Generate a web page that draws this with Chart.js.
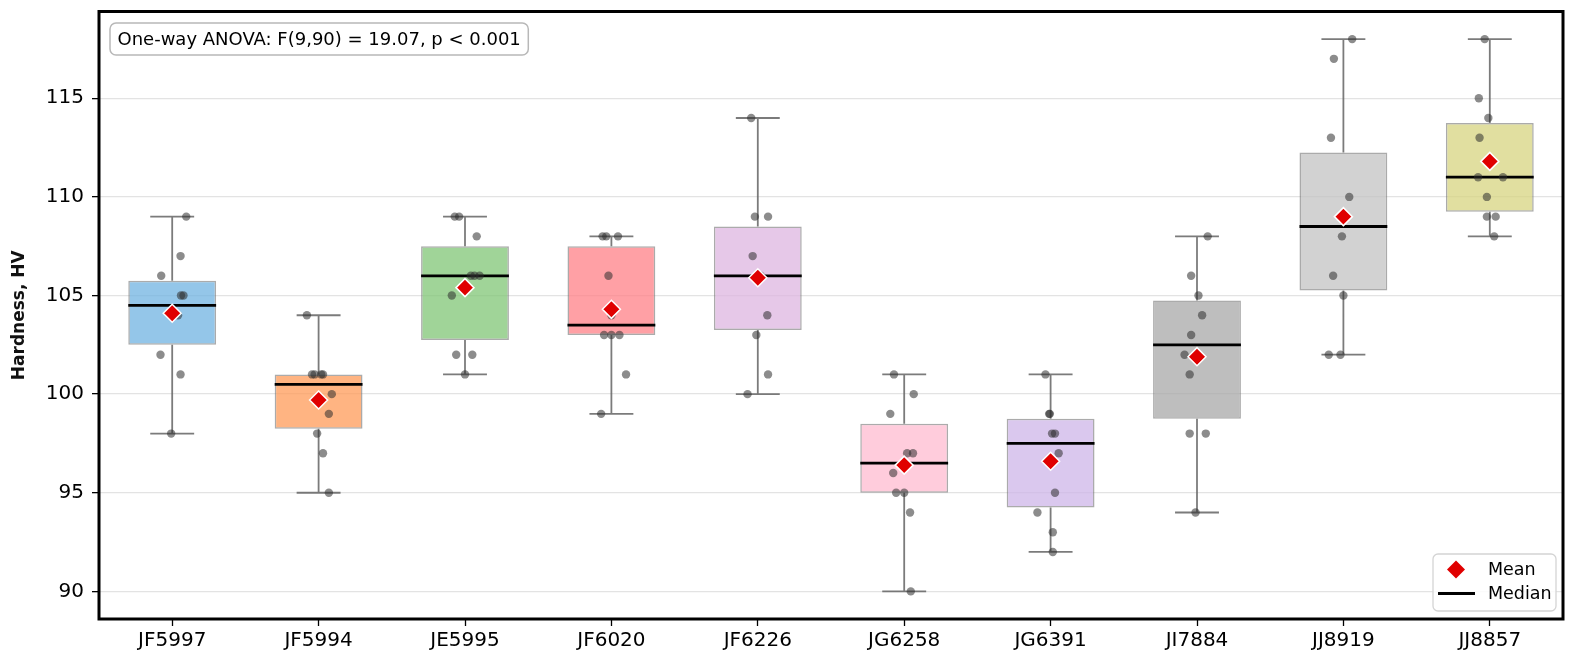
<!DOCTYPE html>
<html>
<head>
<meta charset="utf-8">
<script src="https://cdn.jsdelivr.net/npm/chart.js@4.4.1/dist/chart.umd.min.js"></script>
<style>
html,body{margin:0;padding:0;background:#fff;}
canvas{display:block;}
</style>
</head>
<body>
<canvas id="c" width="1576" height="663"></canvas>
<script>
// ---------------- DATA ----------------
const categories = ['JF5997','JF5994','JE5995','JF6020','JF6226','JG6258','JG6391','JI7884','JJ8919','JJ8857'];
const yTicks = [90, 95, 100, 105, 110, 115];

const valuesJF5997 = [109, 107, 106, 105, 105, 104, 104, 102, 101, 98];
const valuesJF5994 = [104, 101, 101, 101, 101, 100, 99, 98, 97, 95];
const valuesJE5995 = [109, 109, 108, 106, 106, 106, 105, 102, 102, 101];
const valuesJF6020 = [108, 108, 108, 106, 104, 103, 103, 103, 101, 99];
const valuesJF6226 = [114, 109, 109, 107, 106, 106, 104, 103, 101, 100];
const valuesJG6258 = [101, 100, 99, 97, 97, 96, 95, 95, 94, 90];
const valuesJG6391 = [101, 99, 99, 98, 98, 97, 95, 94, 93, 92];
const valuesJI7884 = [108, 106, 105, 104, 103, 102, 101, 98, 98, 94];
const valuesJJ8919 = [118, 117, 113, 110, 109, 108, 106, 105, 102, 102];
const valuesJJ8857 = [118, 115, 114, 113, 111, 111, 110, 109, 109, 108];

// horizontal jitter of each dot (category units)
const jitterJF5997 = [0.096, 0.057, -0.075, 0.06, 0.077, 0.04, 0.0, -0.08, 0.057, -0.007];
const jitterJF5994 = [-0.08, -0.045, -0.027, 0.018, 0.03, 0.09, 0.07, -0.01, 0.03, 0.07];
const jitterJE5995 = [-0.07, -0.04, 0.08, 0.04, 0.065, 0.1, -0.09, -0.06, 0.05, 0.0];
const jitterJF6020 = [-0.06, -0.035, 0.045, -0.02, 0.0, -0.05, 0.0, 0.055, 0.1, -0.07];
const jitterJF6226 = [-0.045, -0.02, 0.07, -0.035, 0.0, 0.02, 0.065, -0.01, 0.07, -0.07];
const jitterJG6258 = [-0.07, 0.065, -0.095, 0.02, 0.06, -0.075, -0.055, 0.0, 0.04, 0.045];
const jitterJG6391 = [-0.035, -0.01, -0.005, 0.01, 0.03, 0.055, 0.03, -0.09, 0.015, 0.015];
const jitterJI7884 = [0.073, -0.04, 0.01, 0.035, -0.04, -0.085, -0.05, -0.05, 0.06, -0.01];
const jitterJJ8919 = [0.06, -0.065, -0.085, 0.04, 0.0, -0.01, -0.07, 0.0, -0.1, -0.02];
const jitterJJ8857 = [-0.035, -0.075, -0.01, -0.07, -0.08, 0.09, -0.02, -0.02, 0.04, 0.03];

const annotationText = 'One-way ANOVA: F(9,90) = 19.07, p < 0.001';
const yTitle = 'Hardness, HV';
const legendLabels = ['Mean', 'Median'];

// ---------------- STYLE ----------------
const boxFill = [
  'rgba(112,179,226,0.75)', 'rgba(255,155,88,0.75)', 'rgba(128,198,118,0.75)',
  'rgba(255,128,135,0.75)', 'rgba(222,182,224,0.75)', 'rgba(255,187,208,0.75)',
  'rgba(206,182,232,0.75)', 'rgba(168,168,168,0.75)', 'rgba(195,195,195,0.75)',
  'rgba(215,212,128,0.75)'
];
const FONT = '"DejaVu Sans", "Liberation Sans", sans-serif';
const BOX_HALF = 0.3, CAP_HALF = 0.15;

// ---------------- STATS ----------------
const groupValues = [valuesJF5997, valuesJF5994, valuesJE5995, valuesJF6020, valuesJF6226,
                     valuesJG6258, valuesJG6391, valuesJI7884, valuesJJ8919, valuesJJ8857];
const groupJitter = [jitterJF5997, jitterJF5994, jitterJE5995, jitterJF6020, jitterJF6226,
                     jitterJG6258, jitterJG6391, jitterJI7884, jitterJJ8919, jitterJJ8857];

function quantile(s, p) {
  const pos = (s.length - 1) * p, lo = Math.floor(pos), hi = Math.ceil(pos);
  return s[lo] + (s[hi] - s[lo]) * (pos - lo);
}
const stats = groupValues.map(v => {
  const s = [...v].sort((a, b) => a - b);
  const q1 = quantile(s, 0.25), med = quantile(s, 0.5), q3 = quantile(s, 0.75);
  const iqr = q3 - q1;
  const lo = s.find(x => x >= q1 - 1.5 * iqr);
  const hi = [...s].reverse().find(x => x <= q3 + 1.5 * iqr);
  const mean = v.reduce((a, b) => a + b, 0) / v.length;
  return { q1, med, q3, lo, hi, mean };
});

const boxData = stats.map((s, i) => ({ x: i, y: [s.q1, s.q3] }));
const whiskerData = [];
stats.forEach((s, i) => {
  whiskerData.push({x: i, y: s.lo}, {x: i, y: s.q1}, {x: i, y: null});
  whiskerData.push({x: i, y: s.q3}, {x: i, y: s.hi}, {x: i, y: null});
  whiskerData.push({x: i - CAP_HALF, y: s.lo}, {x: i + CAP_HALF, y: s.lo}, {x: i, y: null});
  whiskerData.push({x: i - CAP_HALF, y: s.hi}, {x: i + CAP_HALF, y: s.hi}, {x: i, y: null});
});
const medianData = [];
stats.forEach((s, i) => {
  medianData.push({x: i - BOX_HALF, y: s.med}, {x: i + BOX_HALF, y: s.med}, {x: i, y: null});
});
const pointData = [];
groupValues.forEach((v, i) => v.forEach((y, j) => pointData.push({ x: i + groupJitter[i][j], y })));
const meanData = stats.map((s, i) => ({ x: i, y: s.mean }));

// ---------------- PLUGIN: frame, annotation, legend ----------------
function roundRect(ctx, x, y, w, h, r) {
  ctx.beginPath();
  ctx.moveTo(x + r, y);
  ctx.lineTo(x + w - r, y); ctx.arcTo(x + w, y, x + w, y + r, r);
  ctx.lineTo(x + w, y + h - r); ctx.arcTo(x + w, y + h, x + w - r, y + h, r);
  ctx.lineTo(x + r, y + h); ctx.arcTo(x, y + h, x, y + h - r, r);
  ctx.lineTo(x, y + r); ctx.arcTo(x, y, x + r, y, r);
  ctx.closePath();
}
const decor = {
  id: 'decor',
  afterDraw(chart) {
    const ctx = chart.ctx, a = chart.chartArea;
    ctx.save();
    // frame
    ctx.strokeStyle = '#000'; ctx.lineWidth = 3;
    ctx.strokeRect(a.left, a.top, a.right - a.left, a.bottom - a.top);

    // annotation
    ctx.font = '18px ' + FONT;
    const tw = ctx.measureText(annotationText).width;
    const bx = a.left + 11, by = a.top + 11.5, bw = tw + 15, bh = 32;
    roundRect(ctx, bx, by, bw, bh, 6);
    ctx.fillStyle = '#fff'; ctx.fill();
    ctx.strokeStyle = '#b8b8b8'; ctx.lineWidth = 1.5; ctx.stroke();
    ctx.fillStyle = '#000'; ctx.textBaseline = 'middle'; ctx.textAlign = 'left';
    ctx.fillText(annotationText, bx + 7.5, by + bh / 2 + 1);

    // legend
    const lw = 123, lh = 57;
    const lx = a.right - 7 - lw, ly = a.bottom - 8 - lh;
    roundRect(ctx, lx, ly, lw, lh, 5);
    ctx.fillStyle = 'rgba(255,255,255,0.85)'; ctx.fill();
    ctx.strokeStyle = '#d4d4d4'; ctx.lineWidth = 1.3; ctx.stroke();
    // mean marker
    const mx = lx + 23, my = ly + 15.5, r = 9;
    ctx.beginPath();
    ctx.moveTo(mx - r, my); ctx.lineTo(mx, my - r); ctx.lineTo(mx + r, my); ctx.lineTo(mx, my + r);
    ctx.closePath();
    ctx.fillStyle = '#e00000'; ctx.fill();
    // median marker
    ctx.beginPath();
    ctx.moveTo(lx + 5, ly + 39.5); ctx.lineTo(lx + 42, ly + 39.5);
    ctx.strokeStyle = '#000'; ctx.lineWidth = 2.8; ctx.stroke();
    ctx.font = '17.5px ' + FONT; ctx.fillStyle = '#000'; ctx.textBaseline = 'middle';
    ctx.fillText(legendLabels[0], lx + 55, ly + 16);
    ctx.fillText(legendLabels[1], lx + 55, ly + 40);
    ctx.restore();
  }
};

// ---------------- CHART ----------------
new Chart(document.getElementById('c'), {
  type: 'line',
  data: {
    datasets: [
      { type: 'line', label: 'Mean', data: meanData, showLine: false, pointStyle: 'rectRot',
        pointRadius: 9, pointHoverRadius: 9, pointBackgroundColor: '#e00000', pointBorderColor: '#ffffff',
        pointBorderWidth: 1.5, order: 0 },
      { type: 'line', label: 'Points', data: pointData, showLine: false, pointStyle: 'circle',
        pointRadius: 4.2, pointHoverRadius: 4.2, pointBackgroundColor: 'rgba(45,45,45,0.55)', pointBorderWidth: 0,
        order: 1 },
      { type: 'line', label: 'Median', data: medianData, borderColor: '#000', borderWidth: 2.8,
        pointRadius: 0, spanGaps: false, borderCapStyle: 'butt', order: 2 },
      { type: 'line', label: 'Whiskers', data: whiskerData, borderColor: 'rgba(100,100,100,0.85)', borderWidth: 1.8,
        pointRadius: 0, spanGaps: false, borderCapStyle: 'butt', order: 3 },
      { type: 'bar', label: 'Boxes', data: boxData, backgroundColor: boxFill,
        borderColor: 'rgba(115,115,115,0.6)', borderWidth: 1.5, borderSkipped: false,
        barPercentage: 2 * BOX_HALF, categoryPercentage: 1, order: 4 }
    ]
  },
  options: {
    responsive: false,
    animation: false,
    devicePixelRatio: 1,
    layout: { padding: { top: 11.5, right: 13, left: 0, bottom: 0 } },
    elements: { line: { tension: 0 } },
    plugins: { legend: { display: false }, tooltip: { enabled: false } },
    events: [],
    scales: {
      x: {
        type: 'linear', min: -0.5, max: 9.5, offset: false,
        afterBuildTicks: s => { s.ticks = categories.map((_, i) => ({ value: i })); },
        afterFit: s => { s.height = 44; s.paddingLeft = 0; s.paddingRight = 0; },
        ticks: { callback: v => categories[v], font: { family: FONT, size: 20 }, color: '#000',
                 padding: 3, autoSkip: false, maxRotation: 0 },
        grid: { drawOnChartArea: false, drawTicks: true, tickLength: 7, tickColor: '#000', tickWidth: 1.3, offset: false },
        border: { display: false }
      },
      y: {
        type: 'linear', min: 88.6, max: 119.4,
        afterBuildTicks: s => { s.ticks = yTicks.map(v => ({ value: v })); },
        afterFit: s => { s.width = 99; s.paddingTop = 0; s.paddingBottom = 0; },
        ticks: { font: { family: FONT, size: 20 }, color: '#000', padding: 8 },
        grid: { color: '#e3e3e3', lineWidth: 1.3, drawTicks: true, tickLength: 7, tickColor: '#000', tickWidth: 1.3 },
        border: { display: false },
        title: { display: true, text: yTitle, color: '#111', font: { family: FONT, size: 17, weight: 'bold' },
                 padding: { top: 9, bottom: 0 } }
      }
    }
  },
  plugins: [decor]
});
</script>
</body>
</html>
